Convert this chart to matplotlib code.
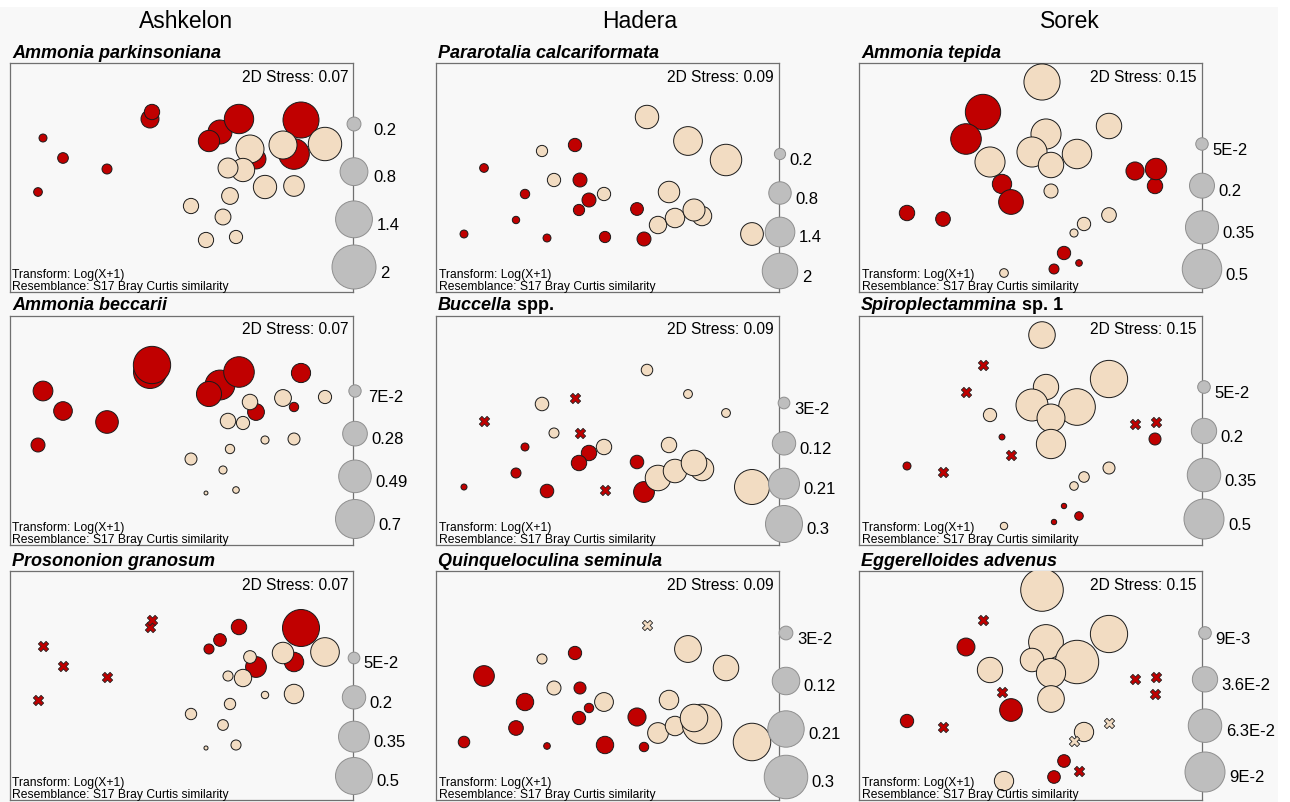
import matplotlib
matplotlib.use("Agg")
import matplotlib.pyplot as plt
import numpy as np
from matplotlib.patches import Rectangle

plt.rcParams['font.family'] = ['Liberation Sans', 'DejaVu Sans']

# ---------------------------------------------------------------- data
locations = ["Ashkelon", "Hadera", "Sorek"]
stress = [0.07, 0.09, 0.15]

# nMDS site coordinates (ordination units) and sample group per location
ash_x = [33, 53, 97, 28, 140, 142, 210, 229, 199, 246, 284, 291,
         315, 273, 240, 233, 218, 255, 284, 220, 181, 213, 226, 196]
ash_y = [154, 134, 123, 100, 173, 180, 160, 173, 151, 133, 138, 172,
         148, 147, 143, 122, 124, 105, 106, 96, 86, 75, 55, 52]
ash_group = list("rrrrrrrrrrrrbbbbbbbbbbbb")

had_x = [211, 106, 139, 48, 252, 290, 118, 144, 89, 168, 153, 143,
         233, 201, 80, 28, 111, 169, 208, 222, 239, 266, 258, 316]
had_y = [175, 141, 147, 124, 151, 132, 112, 112, 98, 98, 92, 82,
         100, 83, 72, 58, 54, 55, 53, 67, 74, 76, 82, 58]
had_group = list("bbrrbbbrrbrrbrrrrrrbbbbb")

sor_x = [183, 187, 173, 218, 192, 250, 192, 131, 250, 225, 215, 145,
         124, 107, 143, 152, 84, 48, 276, 296, 297, 205, 195, 220]
sor_y = [210, 158, 140, 138, 127, 166, 101, 130, 77, 68, 59, 19,
         180, 153, 108, 90, 73, 79, 121, 106, 123, 39, 23, 29]
sor_group = list("bbbbbbbbbbbbrrrrrrrrrrrr")

# species abundances per site (0 = absent)
ammonia_parkinsoniana = [0.066, 0.118, 0.103, 0.078, 0.335, 0.243, 0.595, 0.89,
                         0.47, 0.41, 0.97, 1.34, 1.15, 0.81, 0.81, 0.56, 0.41,
                         0.56, 0.44, 0.29, 0.24, 0.26, 0.18, 0.24]
ammonia_beccarii = [0.18, 0.16, 0.236, 0.09, 0.5, 0.64, 0.41, 0.43, 0.29, 0.13,
                    0.04, 0.17, 0.08, 0.13, 0.11, 0.08, 0.11, 0.03, 0.066, 0.04,
                    0.066, 0.03, 0.02, 0.007]
prosononion_granosum = [0, 0, 0, 0, 0, 0, 0.059, 0.087, 0.037, 0.158, 0.138, 0.50,
                        0.30, 0.168, 0.059, 0.11, 0.037, 0.02, 0.138, 0.047,
                        0.047, 0.042, 0.037, 0.006]

pararotalia_calcariformata = [0.87, 0.2, 0.28, 0.12, 1.31, 1.57, 0.28, 0.31, 0.14,
                              0.28, 0.31, 0.2, 0.73, 0.26, 0.086, 0.1, 0.1, 0.2,
                              0.31, 0.48, 0.6, 0.6, 0.77, 0.82]
buccella_spp = [0.029, 0.04, 0, 0, 0.017, 0.017, 0.022, 0, 0.014, 0.052, 0.052,
                0.052, 0.052, 0.04, 0.022, 0.008, 0.04, 0, 0.095, 0.143, 0.121,
                0.121, 0.143, 0.268]
quinqueloculina_seminula = [0, 0.016, 0.028, 0.068, 0.114, 0.103, 0.031, 0.023,
                            0.048, 0.056, 0.014, 0.028, 0.06, 0.052, 0.034, 0.021,
                            0.007, 0.048, 0.014, 0.068, 0.06, 0.248, 0.12, 0.223]

ammonia_tepida = [0.418, 0.29, 0.29, 0.278, 0.207, 0.207, 0.063, 0.29, 0.069,
                  0.057, 0.021, 0.024, 0.40, 0.30, 0.12, 0.196, 0.069, 0.076,
                  0.105, 0.076, 0.147, 0.057, 0.032, 0.014]
spiroplectammina_sp1 = [0.22, 0.2, 0.32, 0.42, 0.244, 0.434, 0.268, 0.055, 0.045,
                        0.035, 0.023, 0.017, 0, 0, 0.011, 0, 0, 0.02, 0, 0.045,
                        0, 0.009, 0.009, 0.023]
eggerelloides_advenus = [0.102, 0.068, 0.031, 0.106, 0.048, 0.078, 0.04, 0.036, 0,
                         0.021, 0, 0.021, 0, 0.018, 0, 0.029, 0, 0.01, 0, 0, 0,
                         0.009, 0.009, 0]

# bubble legend values and their labels
legend_ash = [[0.2, 0.8, 1.4, 2], [0.07, 0.28, 0.49, 0.7], [0.05, 0.2, 0.35, 0.5]]
legend_ash_lbl = [["0.2", "0.8", "1.4", "2"], ["7E-2", "0.28", "0.49", "0.7"],
                  ["5E-2", "0.2", "0.35", "0.5"]]
legend_had = [[0.2, 0.8, 1.4, 2], [0.03, 0.12, 0.21, 0.3], [0.03, 0.12, 0.21, 0.3]]
legend_had_lbl = [["0.2", "0.8", "1.4", "2"], ["3E-2", "0.12", "0.21", "0.3"],
                  ["3E-2", "0.12", "0.21", "0.3"]]
legend_sor = [[0.05, 0.2, 0.35, 0.5], [0.05, 0.2, 0.35, 0.5],
              [0.009, 0.036, 0.063, 0.09]]
legend_sor_lbl = [["5E-2", "0.2", "0.35", "0.5"], ["5E-2", "0.2", "0.35", "0.5"],
                  ["9E-3", "3.6E-2", "6.3E-2", "9E-2"]]

# panel titles: (italic part, upright part)
titles = [
    [("Ammonia parkinsoniana", ""), ("Pararotalia calcariformata", ""), ("Ammonia tepida", "")],
    [("Ammonia beccarii", ""), ("Buccella", " spp."), ("Spiroplectammina", " sp. 1")],
    [("Prosononion granosum", ""), ("Quinqueloculina seminula", ""), ("Eggerelloides advenus", "")],
]

sites = [(ash_x, ash_y, ash_group), (had_x, had_y, had_group), (sor_x, sor_y, sor_group)]
values = [
    [ammonia_parkinsoniana, pararotalia_calcariformata, ammonia_tepida],
    [ammonia_beccarii, buccella_spp, spiroplectammina_sp1],
    [prosononion_granosum, quinqueloculina_seminula, eggerelloides_advenus],
]
legends = [legend_ash, legend_had, legend_sor]
legend_lbls = [legend_ash_lbl, legend_had_lbl, legend_sor_lbl]

# ---------------------------------------------------------------- layout / style
FIG_W, FIG_H, DPI = 1290, 803, 100
BOX_LEFT = [10, 436, 859]
BOX_TOP = [64, 317, 572]
BOX_W, BOX_H = 343, 229
COL_TITLE_X = [186, 640, 1070]

BG = "#F8F8F8"
RED = "#C00000"
BEIGE = "#F2DCC2"
GREY = "#BEBEBE"
COLORS = {"r": RED, "b": BEIGE}

LEG_DMAX = [[44, 35.5, 39.5], [39, 37, 40], [37, 43.5, 40]]
LEG_TOP = [[61, 91, 81], [75, 87, 71], [87, 62, 62]]
LEG_BOT = [[204, 208, 206], [203, 208, 203], [205, 206, 201]]
LEG_DX = [[1, 1, 0], [2, 5, 2], [1, 7, 3]]
LEG_LBL_MIN = [[19, 0, 0], [13, 0, 0], [0, 0, 0]]

PT = 72.0 / DPI  # points per pixel

fig = plt.figure(figsize=(FIG_W / DPI, FIG_H / DPI), dpi=DPI)
fig.patch.set_facecolor("white")
fig.add_artist(Rectangle((0, 0), 1278 / FIG_W, (FIG_H - 8) / FIG_H,
                         transform=fig.transFigure, facecolor=BG,
                         edgecolor="none", zorder=-10))

for c, name in enumerate(locations):
    fig.text(COL_TITLE_X[c] / FIG_W, 1 - 21 / FIG_H, name, fontsize=16.5,
             ha="center", va="center")

for r in range(3):
    for c in range(3):
        left, top = BOX_LEFT[c], BOX_TOP[r]
        ax = fig.add_axes([left / FIG_W, 1 - (top + BOX_H) / FIG_H,
                           BOX_W / FIG_W, BOX_H / FIG_H])
        ax.set_facecolor(BG)
        ax.set_xlim(0, BOX_W)
        ax.set_ylim(0, BOX_H)
        ax.set_xticks([])
        ax.set_yticks([])
        for sp in ax.spines.values():
            sp.set_color("#707070")
            sp.set_linewidth(0.9)

        sx, sy, grp = sites[c]
        vals = np.asarray(values[r][c], dtype=float)
        leg_v = legends[c][r]
        leg_l = legend_lbls[c][r]
        k = LEG_DMAX[r][c] / np.sqrt(max(leg_v))  # px diameter per sqrt(unit)

        # red samples first, then beige, each in site order
        for g in ("r", "b"):
            idx = [i for i in range(len(sx)) if grp[i] == g]
            pres = [i for i in idx if vals[i] > 0]
            absn = [i for i in idx if vals[i] <= 0]
            if pres:
                ax.scatter([sx[i] for i in pres], [sy[i] for i in pres],
                           s=[(k * np.sqrt(vals[i]) * PT) ** 2 for i in pres],
                           c=COLORS[g], edgecolors="#1a1a1a", linewidths=0.7,
                           zorder=3)
            if absn:
                ax.scatter([sx[i] for i in absn], [sy[i] for i in absn],
                           s=55, marker="X", c=COLORS[g], edgecolors="#222222",
                           linewidths=0.6, zorder=4)

        # stress and resemblance notes
        ax.text(BOX_W - 5, BOX_H - 13, f"2D Stress: {stress[c]:.2f}",
                ha="right", va="center", fontsize=11.2)
        ax.text(2.5, BOX_H - 211, "Transform: Log(X+1)", ha="left",
                va="center", fontsize=8.7)
        ax.text(2.5, BOX_H - 223, "Resemblance: S17 Bray Curtis similarity",
                ha="left", va="center", fontsize=8.7)

        # bubble size legend along the right frame
        ly = np.linspace(BOX_H - LEG_TOP[r][c], BOX_H - LEG_BOT[r][c], len(leg_v))
        lx = BOX_W + LEG_DX[r][c]
        diam = [k * np.sqrt(v) for v in leg_v]
        ax.scatter([lx] * len(leg_v), ly, s=[(d * PT) ** 2 for d in diam],
                   c=GREY, edgecolors="#8f8f8f", linewidths=0.7,
                   clip_on=False, zorder=5)
        for yy, d, lab in zip(ly, diam, leg_l):
            off = max(d / 2 + 4, LEG_LBL_MIN[r][c])
            ax.text(lx + off, yy - 5, lab, ha="left", va="center",
                    fontsize=12, clip_on=False)

        # species title (italic genus/species, upright qualifier)
        ital, rest = titles[r][c]
        t1 = fig.text((left + 2) / FIG_W, 1 - (top - 11) / FIG_H, ital,
                      fontsize=13, weight="bold", style="italic",
                      ha="left", va="center")
        if rest:
            ax.annotate(rest, xy=(1, 0), xycoords=t1, ha="left", va="bottom",
                        fontsize=13, weight="bold", annotation_clip=False)

fig.savefig("out.png", dpi=DPI, facecolor=fig.get_facecolor())
